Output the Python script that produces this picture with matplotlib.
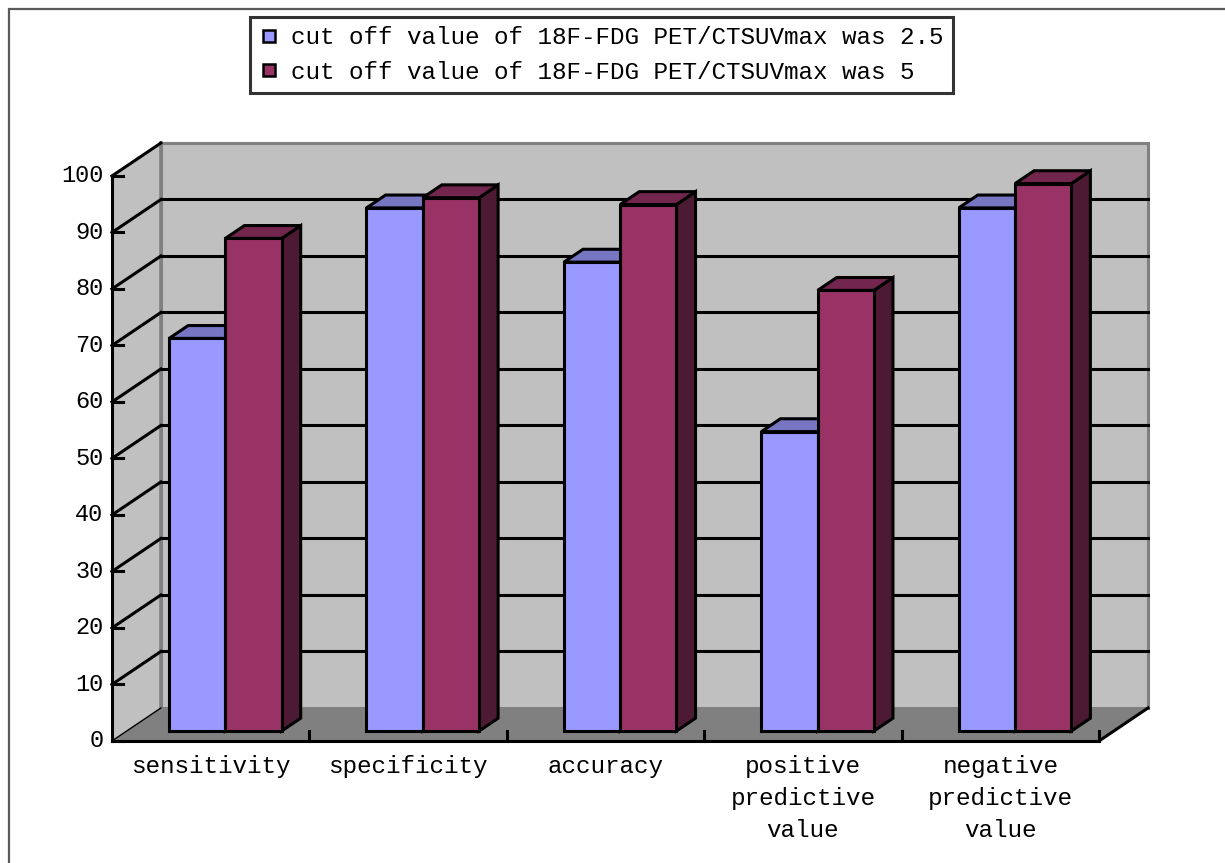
import matplotlib
matplotlib.use("Agg")
import matplotlib.pyplot as plt
from matplotlib.patches import Polygon, Rectangle
from matplotlib.lines import Line2D

plt.rcParams['font.family'] = ['Liberation Mono', 'DejaVu Sans']

categories = ["sensitivity", "specificity", "accuracy",
              "positive\npredictive\nvalue", "negative\npredictive\nvalue"]
cut_25 = [69.5, 92.6, 83.0, 53.0, 92.6]
cut_5 = [87.2, 94.4, 93.2, 78.0, 96.9]
series_names = ["cut off value of 18F-FDG PET/CTSUVmax was 2.5",
                "cut off value of 18F-FDG PET/CTSUVmax was 5"]
yticks = list(range(0, 101, 10))

# face colours: front, top, side
blue = ("#9999ff", "#7676c2", "#4d4d80")
wine = ("#993366", "#73264d", "#4d1a33")

# oblique projection of the depth axis (in data units)
DX, DY = 0.248, 5.84


def proj(x, v, d):
    return (x + d * DX, v + d * DY)


fig = plt.figure(figsize=(12.25, 8.63), dpi=100)
ax = fig.add_axes([0, 0, 1, 1])
ax.set_xlim(-0.567, 5.638)
ax.set_ylim(-21.6, 131.15)
ax.axis("off")

ncat = len(categories)
lw = 2.2

# walls and floor
back = Polygon([proj(0, 0, 1), proj(ncat, 0, 1), proj(ncat, 100, 1), proj(0, 100, 1)],
               closed=True, fc="#c0c0c0", ec="#808080", lw=2.2, zorder=1)
ax.add_patch(back)
left = Polygon([proj(0, 0, 0), proj(0, 0, 1), proj(0, 100, 1), proj(0, 100, 0)],
               closed=True, fc="#c0c0c0", ec="none", zorder=1)
ax.add_patch(left)
floor = Polygon([proj(0, 0, 0), proj(ncat, 0, 0), proj(ncat, 0, 1), proj(0, 0, 1)],
                closed=True, fc="#808080", ec="none", zorder=1)
ax.add_patch(floor)
x0, y0 = proj(0, 0, 1)
x1, y1 = proj(0, 100, 1)
ax.plot([x0, x1], [y0, y1], color="#808080", lw=2.6, zorder=1.5)

# gridlines on the back wall and the left wall
for v in yticks[1:-1]:
    a = proj(0, v, 1)
    b = proj(ncat, v, 1)
    ax.plot([a[0], b[0]], [a[1], b[1]], color="black", lw=lw, zorder=2)
for v in yticks:
    a = proj(0, v, 0)
    b = proj(0, v, 1)
    ax.plot([a[0], b[0]], [a[1], b[1]], color="black",
            lw=1.0 if v == 0 else lw, zorder=2)

# bars
width = 0.285
d0, d1 = 0.30, 0.69
for i in range(ncat):
    for s, (vals, cols) in enumerate([(cut_25, blue), (cut_5, wine)]):
        v = vals[i]
        xa = i + 0.215 + s * width
        xb = xa + width
        front = [proj(xa, 0, d0), proj(xb, 0, d0), proj(xb, v, d0), proj(xa, v, d0)]
        top = [proj(xa, v, d0), proj(xb, v, d0), proj(xb, v, d1), proj(xa, v, d1)]
        side = [proj(xb, 0, d0), proj(xb, 0, d1), proj(xb, v, d1), proj(xb, v, d0)]
        for pts, c in [(side, cols[2]), (top, cols[1]), (front, cols[0])]:
            ax.add_patch(Polygon(pts, closed=True, fc=c, ec="black", lw=lw,
                                 joinstyle="miter", zorder=3 + i * 0.1 + s * 0.01))

# front axes
ax.plot([0, 0], [0, 100], color="black", lw=lw, zorder=5, solid_capstyle="projecting")
ax.plot([0, ncat], [0, 0], color="black", lw=lw, zorder=5, solid_capstyle="projecting")
e = proj(ncat, 0, 1)
ax.plot([ncat, e[0]], [0, e[1]], color="black", lw=lw, zorder=5)
for v in yticks:
    ax.plot([0, 0.056], [v, v], color="black", lw=lw, zorder=5)
    ax.annotate(str(v), (0, v), xytext=(-6, 0), textcoords="offset points",
                ha="right", va="center", fontsize=17, zorder=6)
for i in range(1, ncat + 1):
    ax.plot([i, i], [0, 1.8], color="black", lw=lw, zorder=5)
for i, lab in enumerate(categories):
    ax.annotate(lab, (i + 0.5, 0), xytext=(0, -10), textcoords="offset points",
                ha="center", va="top", fontsize=17.5, linespacing=1.5,
                multialignment="center", zorder=6)

# legend
handles = [Line2D([], [], ls="", marker="s", markersize=8.5, mfc=c[0], mec="black",
                  mew=1.8) for c in (blue, wine)]
leg = fig.legend(handles, series_names, loc="upper left",
                 bbox_to_anchor=(250 / 1225, 1 - 17 / 863), fontsize=17.5,
                 frameon=True, fancybox=False, borderpad=0.38, labelspacing=0.48,
                 handlelength=0.8, handletextpad=0.5, borderaxespad=0)
leg.get_frame().set_edgecolor("black")
leg.get_frame().set_linewidth(2.2)

# outer frame
fig.patches.append(Rectangle((9 / 1225, -0.05), 1.1, 1.05 - 9 / 863,
                             transform=fig.transFigure, fill=False,
                             ec="#5a5a5a", lw=1.6))

fig.savefig("out.png", dpi=100)
